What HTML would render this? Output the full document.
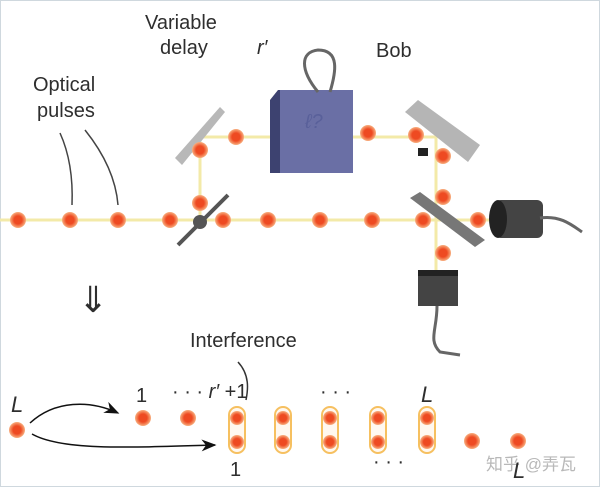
<!DOCTYPE html><html><head><meta charset="utf-8"><style>body{margin:0;background:#fff}svg{display:block}text{font-family:"Liberation Sans","Noto Sans CJK SC",sans-serif;fill:#2e2e2e}</style></head><body>
<svg width="600" height="487" viewBox="0 0 600 487">
<rect x="0.5" y="0.5" width="599" height="486" fill="#fff" stroke="#cfd8de"/>
<defs><radialGradient id="d"><stop offset="0.5" stop-color="#ee4a22"/><stop offset="1" stop-color="#f8b080"/></radialGradient>
<marker id="a" markerWidth="10" markerHeight="8" refX="9" refY="4" orient="auto"><path d="M0,0L10,4L0,8L3,4Z" fill="#111"/></marker></defs>
<g stroke="#f3eaa8" stroke-width="3" fill="none">
<path d="M0,220H490"/><path d="M200,137H436V280"/><path d="M200,137V220"/></g>
<path d="M175,158L220,107L225,112L182,165Z" fill="#b8b8b8"/>
<path d="M178,245L228,195" stroke="#555" stroke-width="4"/>
<circle cx="200" cy="222" r="7" fill="#555"/>
<path d="M405,112L418,100L480,145L468,162Z" fill="#b5b5b5"/>
<path d="M410,198L420,192L485,240L475,247Z" fill="#777"/>
<path d="M418,148h10v8h-10z" fill="#222"/>
<path d="M270,100L278,90H353V173H270Z" fill="#3d4270"/><rect x="280" y="90" width="73" height="83" fill="#6a6fa5"/>
<path d="M318,92C300,70 300,52 318,50C340,50 336,72 330,92" fill="none" stroke="#666" stroke-width="3"/>
<text x="305" y="128" font-size="20" style="fill:#59609a" font-style="italic">ℓ?</text>
<rect x="495" y="200" width="48" height="38" rx="6" fill="#444"/><ellipse cx="498" cy="219" rx="9" ry="19" fill="#222"/>
<path d="M540,218C560,215 572,225 582,232" stroke="#666" stroke-width="3" fill="none"/>
<rect x="418" y="272" width="40" height="34" fill="#444"/><rect x="418" y="270" width="40" height="6" fill="#222"/>
<path d="M437,306C437,330 428,340 440,352L460,355" stroke="#666" stroke-width="3" fill="none"/>
<g fill="url(#d)">
<circle cx="18" cy="220" r="8"/><circle cx="70" cy="220" r="8"/><circle cx="118" cy="220" r="8"/><circle cx="170" cy="220" r="8"/><circle cx="223" cy="220" r="8"/><circle cx="268" cy="220" r="8"/><circle cx="320" cy="220" r="8"/><circle cx="372" cy="220" r="8"/><circle cx="423" cy="220" r="8"/><circle cx="478" cy="220" r="8"/>
<circle cx="200" cy="150" r="8"/><circle cx="200" cy="203" r="8"/><circle cx="236" cy="137" r="8"/><circle cx="368" cy="133" r="8"/><circle cx="416" cy="135" r="8"/><circle cx="443" cy="156" r="8"/><circle cx="443" cy="197" r="8"/><circle cx="443" cy="253" r="8"/>
</g>
<text x="145" y="29" font-size="20">Variable</text><text x="160" y="54" font-size="20">delay</text>
<text x="257" y="54" font-size="20" font-style="italic">r′</text><text x="376" y="57" font-size="20">Bob</text>
<text x="33" y="91" font-size="20">Optical</text><text x="37" y="117" font-size="20">pulses</text>
<path d="M60,133C70,155 73,180 72,205M85,130C105,155 116,180 118,205" stroke="#444" stroke-width="1.5" fill="none"/>
<text x="78" y="312" font-size="36" fill="#222">⇓</text>
<text x="190" y="347" font-size="20">Interference</text>
<path d="M238,362C250,375 248,390 246,400" stroke="#333" stroke-width="1.5" fill="none"/>
<text x="11" y="412" font-size="22" font-style="italic">L</text>
<circle cx="17" cy="430" r="8" fill="url(#d)"/>
<path d="M30,423C55,400 90,400 118,413" stroke="#111" stroke-width="1.5" fill="none" marker-end="url(#a)"/>
<path d="M32,434C60,450 120,448 215,445" stroke="#111" stroke-width="1.5" fill="none" marker-end="url(#a)"/>
<text x="136" y="402" font-size="20">1</text><text x="172" y="398" font-size="20">· · · <tspan font-style="italic">r′</tspan> +1</text>
<text x="320" y="398" font-size="20">· · ·</text><text x="421" y="402" font-size="22" font-style="italic">L</text>
<g fill="url(#d)"><circle cx="143" cy="418" r="8"/><circle cx="188" cy="418" r="8"/><circle cx="472" cy="441" r="8"/><circle cx="518" cy="441" r="8"/></g>
<g stroke="#f6c060" stroke-width="2" fill="#fff8f0">
<rect x="229" y="407" width="16" height="46" rx="8"/><rect x="275" y="407" width="16" height="46" rx="8"/><rect x="322" y="407" width="16" height="46" rx="8"/><rect x="370" y="407" width="16" height="46" rx="8"/><rect x="419" y="407" width="16" height="46" rx="8"/></g>
<g fill="url(#d)">
<circle cx="237" cy="418" r="7"/><circle cx="237" cy="442" r="7"/><circle cx="283" cy="418" r="7"/><circle cx="283" cy="442" r="7"/><circle cx="330" cy="418" r="7"/><circle cx="330" cy="442" r="7"/><circle cx="378" cy="418" r="7"/><circle cx="378" cy="442" r="7"/><circle cx="427" cy="418" r="7"/><circle cx="427" cy="442" r="7"/></g>
<text x="230" y="476" font-size="20">1</text><text x="373" y="468" font-size="20">· · ·</text>
<text x="486" y="470" font-size="17" style="fill:#b8b8b8">知乎 @弄瓦</text>
<text x="513" y="478" font-size="22" font-style="italic">L</text>
</svg></body></html>
